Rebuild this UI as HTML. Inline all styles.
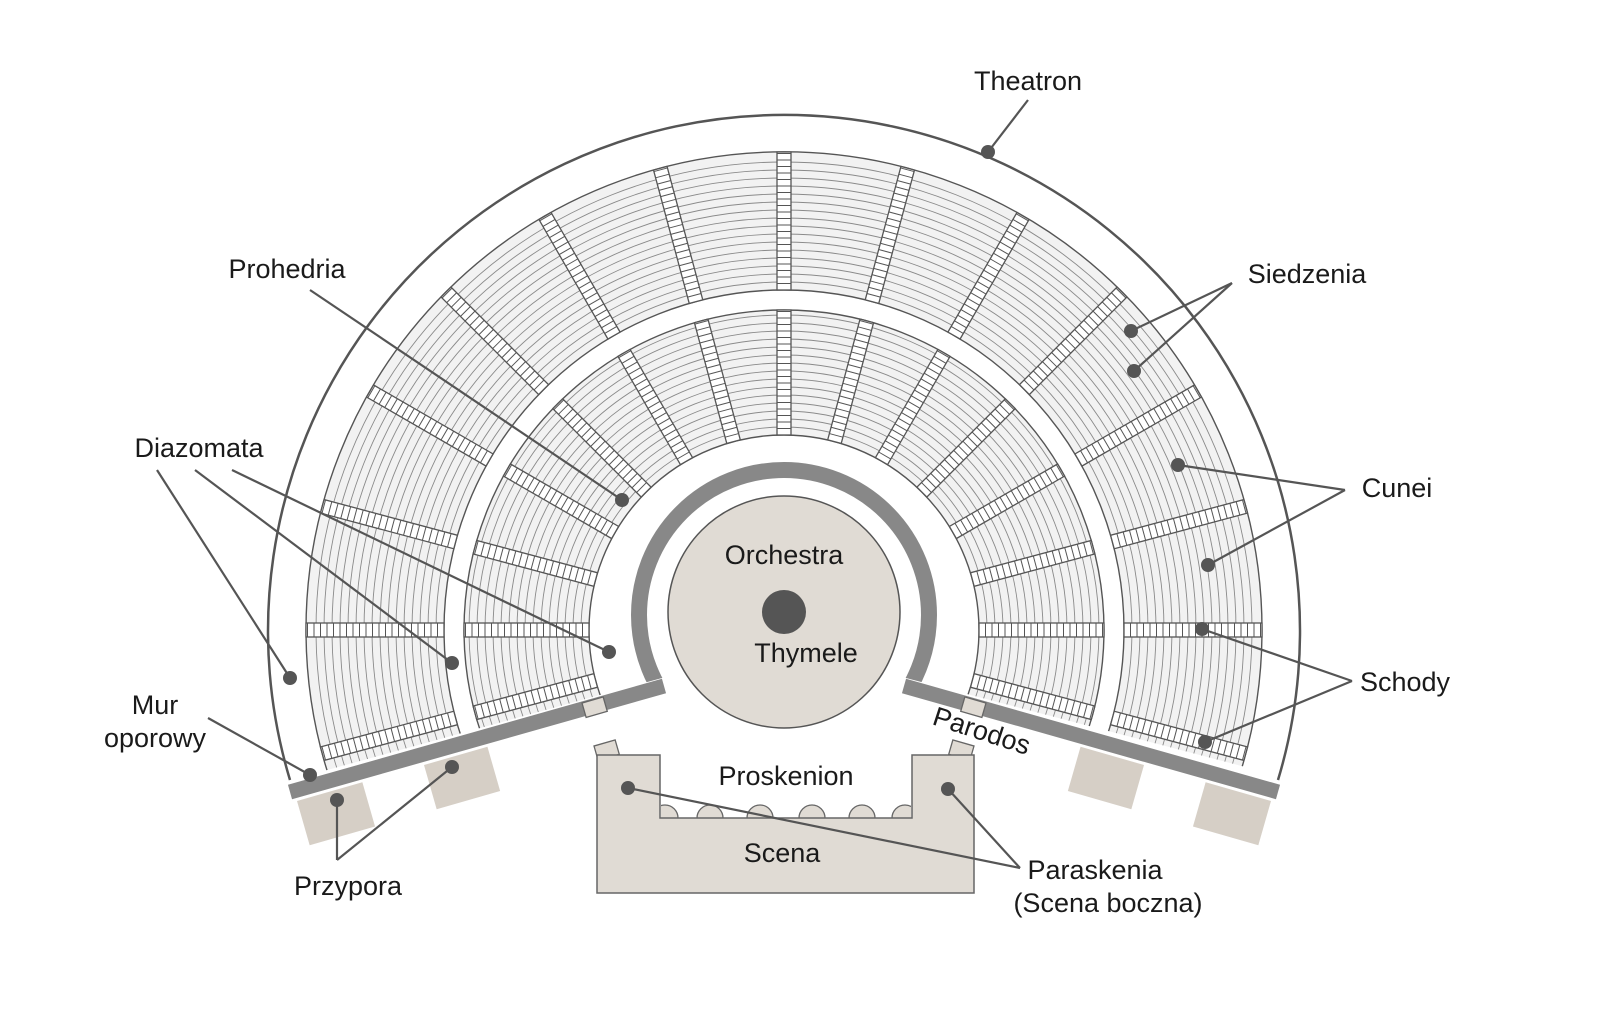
<!DOCTYPE html>
<html><head><meta charset="utf-8"><style>
html,body{margin:0;padding:0;background:#fff;overflow:hidden;width:1600px;height:1018px;}
svg{display:block;}
svg text{font-family:"Liberation Sans",sans-serif;font-size:27px;fill:#1a1a1a;}
</style></head><body>
<svg id="s" width="1600" height="1018" viewBox="0 0 1600 1018" xmlns="http://www.w3.org/2000/svg">
<defs>
<clipPath id="cl"><polygon points="0,0 1600,0 1600,860 906,678 662,678 0,860"/></clipPath>
</defs>
<g id="seats" clip-path="url(#cl)"></g>
<g id="rest"></g>
</svg>
<script>
var cx=784,cy=630;
var S='';
function ann(r1,r2){return '<path d="M'+(cx-r2)+','+cy+' a'+r2+','+r2+' 0 1,1 '+(2*r2)+',0 a'+r2+','+r2+' 0 1,1 '+(-2*r2)+',0 M'+(cx-r1)+','+cy+' a'+r1+','+r1+' 0 1,0 '+(2*r1)+',0 a'+r1+','+r1+' 0 1,0 '+(-2*r1)+',0Z" fill="#f2f2f2" fill-rule="evenodd" stroke="#555" stroke-width="1.4"/>';}
function rows(r1,r2){var o='';for(var r=r1+8;r<r2-2;r+=8)o+='<circle cx="'+cx+'" cy="'+cy+'" r="'+r+'" fill="none" stroke="#8a8a8a" stroke-width="0.9"/>';return o;}
var bands=[[195,320],[340,478]];
bands.forEach(function(b){S+=ann(b[0],b[1])+rows(b[0],b[1]);});
for(var a=-15;a<=195;a+=15){
 bands.forEach(function(b){
  var g='<g transform="rotate('+(-a)+' '+cx+' '+cy+')"><rect x="'+(cx+b[0])+'" y="'+(cy-7)+'" width="'+(b[1]-b[0])+'" height="14" fill="#fff" stroke="#555" stroke-width="1.3"/>';
  for(var x=b[0]+6.5;x<b[1];x+=6.5)g+='<line x1="'+(cx+x)+'" y1="'+(cy-7)+'" x2="'+(cx+x)+'" y2="'+(cy+7)+'" stroke="#555" stroke-width="1"/>';
  S+=g+'</g>';
 });
}
S+='<circle cx="784" cy="615" r="145" fill="none" stroke="#888" stroke-width="16"/>';
document.getElementById('seats').innerHTML=S;

var R='';
R+='<path d="M290,780 A516,516 0 1,1 1278,780" fill="none" stroke="#555" stroke-width="2.5"/>';
var side='<line x1="290" y1="792" x2="664" y2="686" stroke="#888" stroke-width="15"/>'+
'<rect x="0" y="0" width="68" height="46" fill="#d6cfc6" transform="translate(297,801) rotate(-16)"/>'+
'<rect x="0" y="0" width="66" height="46" fill="#d6cfc6" transform="translate(424,765) rotate(-16)"/>'+
'<rect x="0" y="0" width="22" height="15" fill="#e0dbd4" stroke="#666" stroke-width="1.3" transform="translate(582,703) rotate(-16)"/>'+
'<rect x="0" y="0" width="22" height="15" fill="#e0dbd4" stroke="#666" stroke-width="1.3" transform="translate(594,746) rotate(-16)"/>';
R+=side+'<g transform="translate(1568,0) scale(-1,1)">'+side+'</g>';
R+='<circle cx="784" cy="612" r="116" fill="#e0dbd4" stroke="#555" stroke-width="1.5"/><circle cx="784" cy="612" r="22" fill="#555"/>';
var bumps='';[665,710,760,812,862,905].forEach(function(x){bumps+='<circle cx="'+x+'" cy="818" r="13" fill="#e0dbd4" stroke="#666" stroke-width="1.3"/>';});
R+='<g><clipPath id="bc"><rect x="661" y="700" width="250" height="118"/></clipPath><g clip-path="url(#bc)">'+bumps+'</g></g>';
R+='<path d="M597,755 H660 V818 H912 V755 H974 V893 H597Z" fill="#e0dbd4" stroke="#666" stroke-width="1.5"/>';
function L(x1,y1,x2,y2){return '<line x1="'+x1+'" y1="'+y1+'" x2="'+x2+'" y2="'+y2+'" stroke="#555" stroke-width="2.2"/><circle cx="'+x2+'" cy="'+y2+'" r="7" fill="#555"/>';}
R+=L(1028,100,988,152);
R+=L(310,290,622,500);
R+=L(1232,283,1131,331)+L(1232,283,1134,371);
R+=L(157,470,290,678)+L(195,470,452,663)+L(232,470,609,652);
R+=L(1345,490,1178,465)+L(1345,490,1208,565);
R+=L(1352,681,1202,629)+L(1352,681,1205,742);
R+=L(208,718,310,775);
R+=L(337,860,337,800)+L(337,860,452,767);
R+=L(1020,868,628,788)+L(1020,868,948,789);
function T(x,y,t,extra){return '<text x="'+x+'" y="'+y+'" text-anchor="middle" '+(extra||'')+'>'+t+'</text>';}
R+=T(1028,90,'Theatron')+T(287,278,'Prohedria')+T(1307,283,'Siedzenia')+T(199,457,'Diazomata')
+T(1397,497,'Cunei')+T(1405,691,'Schody')+T(155,714,'Mur')+T(155,747,'oporowy')+T(348,895,'Przypora')
+T(1095,879,'Paraskenia')+T(1108,912,'(Scena boczna)')+T(784,564,'Orchestra')+T(806,662,'Thymele')
+T(786,785,'Proskenion')+T(782,862,'Scena')+T(982,740,'Parodos','transform="rotate(18 982 730)"');
document.getElementById('rest').innerHTML=R;
</script>
</body></html>
